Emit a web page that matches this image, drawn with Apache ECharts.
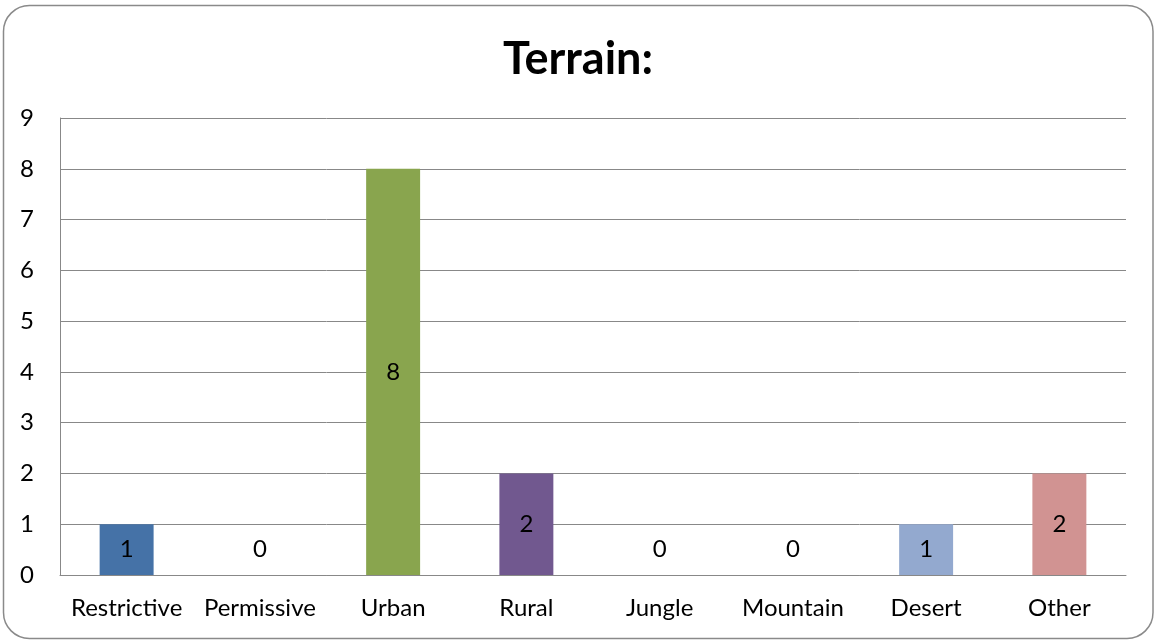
<!DOCTYPE html>
<html>
<head>
<meta charset="utf-8">
<style>
  html, body { margin: 0; padding: 0; background: #fff; }
  #chart { width: 1156px; height: 641px; }
</style>
<script src="https://cdn.jsdelivr.net/npm/echarts@6/dist/echarts.min.js"></script>
</head>
<body>
<div id="chart"></div>
<script>
// Terrain counts per category
const categories = ['Restrictive', 'Permissive', 'Urban', 'Rural', 'Jungle', 'Mountain', 'Desert', 'Other'];
const counts = [1, 0, 8, 2, 0, 0, 1, 2];
const barColors = ['#4572A7', '#AA4643', '#89A54E', '#71588F', '#4198AF', '#DB843D', '#93A9CF', '#D19392'];
const yTicks = [0, 1, 2, 3, 4, 5, 6, 7, 8, 9];

const FONT = 'Lato, "Open Sans", sans-serif';
const TEXT_SIZE = 24;

const chart = echarts.init(document.getElementById('chart'), null, { renderer: 'canvas' });

const seriesData = counts.map((v, i) => ({
  value: v,
  itemStyle: { color: barColors[i] },
  // zero-height bars still show their value, lifted above the baseline
  label: v === 0 ? { offset: [0, -26] } : {}
}));

chart.setOption({
  animation: false,
  backgroundColor: '#fff',
  graphic: [{
    type: 'rect',
    shape: { x: 3.5, y: 5.5, width: 1149.5, height: 633, r: 26 },
    style: { fill: 'none', stroke: '#8a8a8a', lineWidth: 1.5 },
    silent: true,
    z: 100
  }],
  title: {
    text: 'Terrain:',
    left: 'center',
    top: 32,
    textStyle: { fontFamily: FONT, fontSize: 45, fontWeight: 'bold', color: '#000' }
  },
  grid: { left: 60, right: 30, top: 118, bottom: 66, containLabel: false },
  xAxis: {
    type: 'category',
    data: categories,
    axisLine: { show: true, lineStyle: { color: '#888', width: 1 } },
    axisTick: { show: false },
    axisLabel: { color: '#000', fontFamily: FONT, fontSize: TEXT_SIZE, margin: 21, interval: 0 }
  },
  yAxis: {
    type: 'value',
    min: yTicks[0],
    max: yTicks[yTicks.length - 1],
    interval: 1,
    axisLine: { show: true, lineStyle: { color: '#888', width: 1 } },
    axisTick: { show: false },
    splitLine: { show: true, lineStyle: { color: '#888', width: 1 } },
    axisLabel: { color: '#000', fontFamily: FONT, fontSize: TEXT_SIZE, margin: 26, align: 'right' }
  },
  series: [{
    type: 'bar',
    data: seriesData,
    barWidth: '40.5%',
    label: {
      show: true,
      position: 'inside',
      color: '#000',
      fontFamily: FONT,
      fontSize: TEXT_SIZE
    }
  }]
});
</script>
</body>
</html>
